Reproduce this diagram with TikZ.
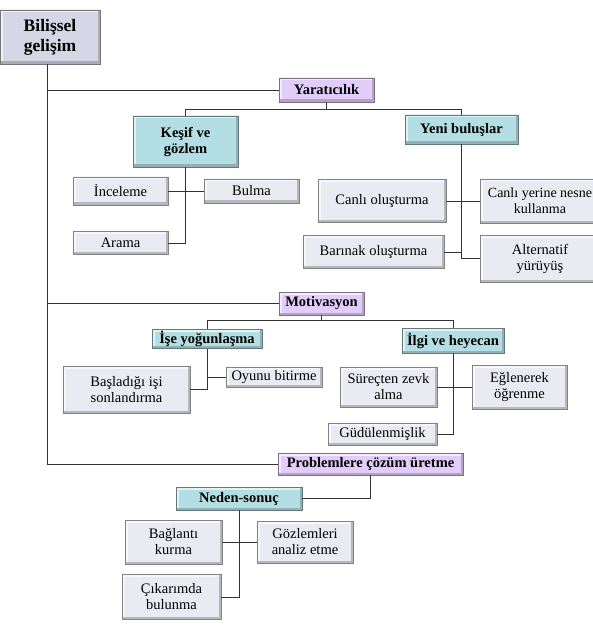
\documentclass[tikz,border=0pt]{standalone}
\usepackage{fontspec}
\setmainfont{Liberation Serif}
\usepackage{tikz}
\usetikzlibrary{positioning}

\definecolor{rootcol}{RGB}{214,214,230}
\definecolor{purpcol}{RGB}{226,204,250}
\definecolor{tealcol}{RGB}{178,222,228}
\definecolor{leafcol}{RGB}{234,234,243}

\begin{document}
\begin{tikzpicture}[x=1pt, y=-1pt, semithick,
    box/.style={rectangle, fill=#1, draw=#1!55!black, thin, inner sep=0pt, align=center,
        font=\fontsize{14.5}{16}\selectfont,
        path picture={
            \draw[#1!40!white, line width=5pt] (path picture bounding box.south west)
                -- (path picture bounding box.north west) -- (path picture bounding box.north east);
            \draw[#1!70!black!80, line width=5pt] (path picture bounding box.north east)
                -- (path picture bounding box.south east) -- (path picture bounding box.south west);}},
    rootbox/.style={box=rootcol, font=\bfseries\fontsize{17.5}{20}\selectfont},
    mainbox/.style={box=purpcol, font=\bfseries\fontsize{14.5}{16}\selectfont},
    subbox/.style={box=tealcol, font=\bfseries\fontsize{14.5}{16}\selectfont},
    leaf/.style={box=leafcol},
    link/.style={draw=black!80}]
    \useasboundingbox (0,0) rectangle (593,628);
    \clip (0,0) rectangle (593,628);

    \node[rootbox, minimum width=100, minimum height=54] (root) at (50,37) {Bilişsel\\gelişim};

    % Yaratıcılık
    \node[mainbox, minimum width=95, minimum height=24] (yar) at (326.5,90) {Yaratıcılık};
    \node[subbox, minimum width=105, minimum height=51] (kesif) at (185.5,141.5) {Keşif ve\\gözlem};
    \node[subbox, minimum width=113, minimum height=29] (yeni) at (461.5,129.5) {Yeni buluşlar};
    \node[leaf, minimum width=95, minimum height=28] (incele) at (120.5,191) {İnceleme};
    \node[leaf, minimum width=95, minimum height=24] (bulma) at (251.5,191) {Bulma};
    \node[leaf, minimum width=95, minimum height=23] (arama) at (120.5,243) {Arama};
    \node[leaf, minimum width=128, minimum height=43] (canli) at (382,201) {Canlı oluşturma};
    \node[leaf, minimum width=120, minimum height=44, font=\fontsize{14}{16}\selectfont] (canliyer) at (540,201) {Canlı yerine nesne\\kullanma};
    \node[leaf, minimum width=141, minimum height=33] (barinak) at (373.5,252) {Barınak oluşturma};
    \node[leaf, minimum width=120, minimum height=47] (altern) at (540,258.5) {Alternatif\\yürüyüş};

    % Motivasyon
    \node[mainbox, minimum width=85, minimum height=23] (mot) at (321.5,303.5) {Motivasyon};
    \node[subbox, minimum width=110, minimum height=19] (ise) at (207,339) {İşe yoğunlaşma};
    \node[subbox, minimum width=102, minimum height=25] (ilgi) at (453,340.5) {İlgi ve heyecan};
    \node[leaf, minimum width=127, minimum height=47] (basla) at (126.5,389.5) {Başladığı işi\\sonlandırma};
    \node[leaf, minimum width=96, minimum height=20] (oyunu) at (274,377) {Oyunu bitirme};
    \node[leaf, minimum width=97, minimum height=40] (surec) at (388.5,387) {Süreçten zevk\\alma};
    \node[leaf, minimum width=95, minimum height=44] (eglen) at (519.5,387) {Eğlenerek\\öğrenme};
    \node[leaf, minimum width=109, minimum height=22] (gudul) at (382.5,434) {Güdülenmişlik};

    % Problemlere çözüm üretme
    \node[mainbox, minimum width=185, minimum height=22] (prob) at (370.5,464) {Problemlere çözüm üretme};
    \node[subbox, minimum width=126, minimum height=23] (neden) at (239,498.5) {Neden-sonuç};
    \node[leaf, minimum width=97, minimum height=44] (baglanti) at (173.5,542) {Bağlantı\\kurma};
    \node[leaf, minimum width=96, minimum height=42] (gozlem) at (305,542) {Gözlemleri\\analiz etme};
    \node[leaf, minimum width=99, minimum height=45] (cikarim) at (171.5,597) {Çıkarımda\\bulunma};

    % connectors
    \draw[link] ([xshift=-3]root.south) |- (yar.west);
    \draw[link] ([xshift=-3]root.south) |- (mot.west);
    \draw[link] ([xshift=-3]root.south) |- (prob.west);

    \draw[link] (yar.south) -- ++(0,7) -| (kesif.north);
    \draw[link] (yar.south) -- ++(0,7) -| (yeni.north);
    \draw[link] (kesif.south) |- (arama.east);
    \draw[link] (incele.east) -- (incele.east -| kesif.south);
    \draw[link] (bulma.west) -- (bulma.west -| kesif.south);
    \draw[link] (yeni.south) |- (altern.west);
    \draw[link] (canli.east) -- (canliyer.west);
    \draw[link] (barinak.east) -- (barinak.east -| yeni.south);

    \draw[link] (mot.south) -- ++(0,5.5) -| (ise.north);
    \draw[link] (mot.south) -- ++(0,5.5) -| (ilgi.north);
    \draw[link] (ise.south) |- (basla.east);
    \draw[link] (oyunu.west) -- (oyunu.west -| ise.south);
    \draw[link] (ilgi.south) |- (gudul.east);
    \draw[link] (surec.east) -- (eglen.west);

    \draw[link] (prob.south) |- (neden.east);
    \draw[link] (neden.south) |- (cikarim.east);
    \draw[link] (baglanti.east) -- (gozlem.west);
\end{tikzpicture}
\end{document}
